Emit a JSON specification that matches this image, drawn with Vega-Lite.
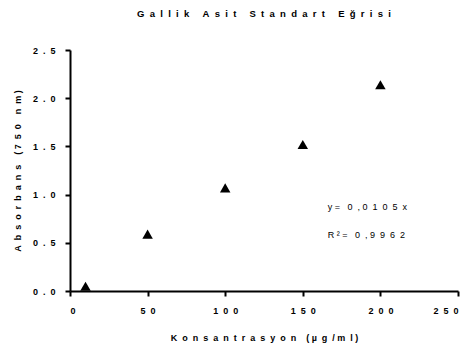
{
  "$schema": "https://vega.github.io/schema/vega-lite/v6.json",
  "autosize": {"type": "none"},
  "width": 388,
  "height": 241,
  "padding": {"left": 70, "top": 50, "right": 15, "bottom": 58},
  "background": "white",
  "config": {
    "view": {"stroke": null},
    "font": "Liberation Sans",
    "axis": {
      "domainColor": "black", "domainWidth": 2, "tickColor": "black", "tickWidth": 2, "tickSize": 5,
      "labelFont": "Liberation Sans", "labelFontWeight": "bold", "labelFontSize": 9, "labelColor": "black",
      "titleFont": "Liberation Sans", "titleFontWeight": "bold", "titleFontSize": 9, "titleColor": "black",
      "grid": false
    }
  },
  "title": {
    "text": "G\u00a0\u00a0a\u00a0\u00a0l\u00a0\u00a0l\u00a0\u00a0i\u00a0\u00a0k\u00a0\u00a0\u00a0\u00a0\u00a0A\u00a0\u00a0s\u00a0\u00a0i\u00a0\u00a0t\u00a0\u00a0\u00a0\u00a0\u00a0S\u00a0\u00a0t\u00a0\u00a0a\u00a0\u00a0n\u00a0\u00a0d\u00a0\u00a0a\u00a0\u00a0r\u00a0\u00a0t\u00a0\u00a0\u00a0\u00a0\u00a0E\u00a0\u00a0ğ\u00a0\u00a0r\u00a0\u00a0i\u00a0\u00a0s\u00a0\u00a0i",
    "font": "Liberation Sans", "fontSize": 9.5, "fontWeight": "bold", "color": "black",
    "anchor": "middle", "offset": 28
  },
  "datasets": {
    "pts": [
      {"x": 10, "y": 0.05},
      {"x": 50, "y": 0.59},
      {"x": 100, "y": 1.07},
      {"x": 150, "y": 1.52},
      {"x": 200, "y": 2.14}
    ],
    "notes": [
      {"x": 166, "y": 0.87, "t": "y\u00a0=\u00a0\u00a0\u00a00\u00a0\u00a0,\u00a00\u00a0\u00a01\u00a0\u00a00\u00a0\u00a05\u00a0\u00a0x"},
      {"x": 166, "y": 0.58, "t": "R\u00a0²\u00a0=\u00a0\u00a0\u00a00\u00a0\u00a0,\u00a09\u00a0\u00a09\u00a0\u00a06\u00a0\u00a02"}
    ]
  },
  "layer": [
    {
      "data": {"name": "pts"},
      "mark": {"type": "point", "shape": "triangle-up", "filled": true, "color": "black", "size": 110, "opacity": 1},
      "encoding": {
        "x": {"field": "x", "type": "quantitative", "scale": {"domain": [0, 250], "nice": false},
          "axis": {"values": [0, 50, 100, 150, 200, 250], "labelExpr": "join(split(datum.label, ''), '\u00a0\u00a0')", "labelPadding": 10, "title": "K\u00a0\u00a0o\u00a0\u00a0n\u00a0\u00a0s\u00a0\u00a0a\u00a0\u00a0n\u00a0\u00a0t\u00a0\u00a0r\u00a0\u00a0a\u00a0\u00a0s\u00a0\u00a0y\u00a0\u00a0o\u00a0\u00a0n\u00a0\u00a0\u00a0\u00a0(\u00a0µ\u00a0\u00a0g\u00a0\u00a0/\u00a0m\u00a0\u00a0l\u00a0)", "titlePadding": 18}},
        "y": {"field": "y", "type": "quantitative", "scale": {"domain": [0, 2.5], "nice": false},
          "axis": {"values": [0, 0.5, 1, 1.5, 2, 2.5], "labelExpr": "join(split(format(datum.value, '.1f'), ''), '\u00a0\u00a0')", "labelPadding": 10, "title": "A\u00a0\u00a0b\u00a0\u00a0s\u00a0\u00a0o\u00a0\u00a0r\u00a0\u00a0b\u00a0\u00a0a\u00a0\u00a0n\u00a0\u00a0s\u00a0\u00a0\u00a0\u00a0(\u00a07\u00a0\u00a05\u00a0\u00a00\u00a0\u00a0\u00a0\u00a0n\u00a0\u00a0m\u00a0)", "titlePadding": 10}}
      }
    },
    {
      "data": {"name": "notes"},
      "mark": {"type": "text", "align": "left", "baseline": "middle", "fontSize": 9, "font": "Liberation Sans", "color": "black"},
      "encoding": {
        "x": {"field": "x", "type": "quantitative"},
        "y": {"field": "y", "type": "quantitative"},
        "text": {"field": "t"}
      }
    }
  ]
}
